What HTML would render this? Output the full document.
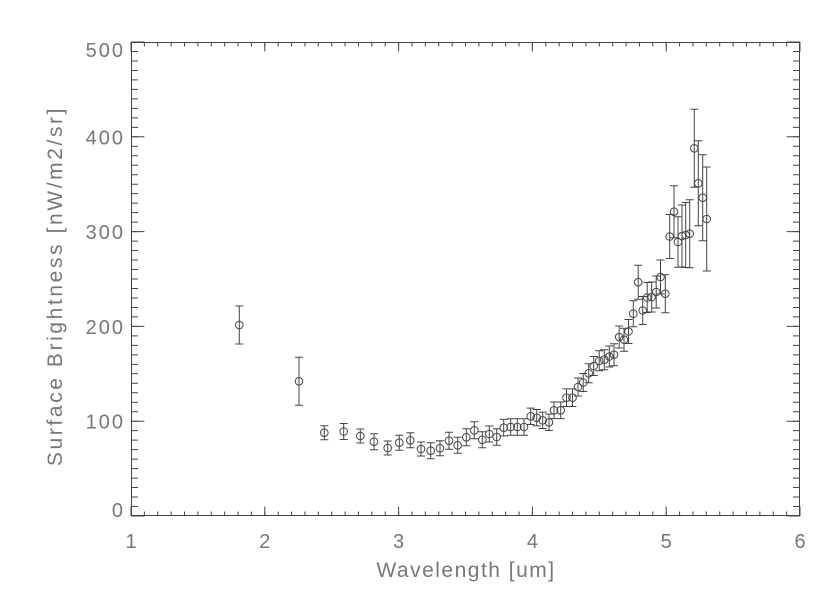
<!DOCTYPE html>
<html>
<head>
<meta charset="utf-8">
<style>
  html, body { margin: 0; padding: 0; background: #ffffff; }
  body { width: 840px; height: 600px; overflow: hidden; }
  svg { display: block; }
  .lbl { font-family: "Liberation Sans", "DejaVu Sans", sans-serif; fill: #777; }
</style>
</head>
<body>
<svg width="840" height="600" viewBox="0 0 840 600" xmlns="http://www.w3.org/2000/svg">
  <rect width="840" height="600" fill="#fff"/>

  <rect x="131.5" y="42.5" width="668" height="473" fill="none" stroke="#444" stroke-width="1"/>

  <line x1="130.5" y1="513.75" x2="801" y2="513.75" stroke="#444" stroke-width="4.5" stroke-dasharray="1 12.38"/>
  <line x1="130.5" y1="511.25" x2="801" y2="511.25" stroke="#444" stroke-width="9.5" stroke-dasharray="1 132.8"/>
  <line x1="130.5" y1="44.25" x2="801" y2="44.25" stroke="#444" stroke-width="4.5" stroke-dasharray="1 12.38"/>
  <line x1="130.5" y1="46.75" x2="801" y2="46.75" stroke="#444" stroke-width="9.5" stroke-dasharray="1 132.8"/>
  <line x1="134.5" y1="516.5" x2="134.5" y2="41" stroke="#444" stroke-width="7" stroke-dasharray="1 8.48"/>
  <line x1="137.7" y1="516.5" x2="137.7" y2="41" stroke="#444" stroke-width="13.4" stroke-dasharray="1 93.8"/>
  <line x1="796.5" y1="516.5" x2="796.5" y2="41" stroke="#444" stroke-width="7" stroke-dasharray="1 8.48"/>
  <line x1="793.3" y1="516.5" x2="793.3" y2="41" stroke="#444" stroke-width="13.4" stroke-dasharray="1 93.8"/>

  <g class="lbl" font-size="20" text-anchor="end" letter-spacing="2">
    <text x="125" y="517">0</text>
    <text x="125" y="428.7">100</text>
    <text x="125" y="333.9">200</text>
    <text x="125" y="239.1">300</text>
    <text x="125" y="144.5">400</text>
    <text x="125" y="57">500</text>
  </g>
  <g class="lbl" font-size="20" text-anchor="middle">
    <text x="131" y="548">1</text>
    <text x="264.8" y="548">2</text>
    <text x="398.6" y="548">3</text>
    <text x="532.4" y="548">4</text>
    <text x="666.2" y="548">5</text>
    <text x="800" y="548">6</text>
  </g>

  <text class="lbl" x="466" y="577" font-size="21" text-anchor="middle" letter-spacing="1.5">Wavelength [um]</text>
  <text class="lbl" font-size="21" text-anchor="middle" letter-spacing="2.6" transform="translate(62,286) rotate(-90)">Surface Brightness [nW/m2/sr]</text>

  <path fill="none" stroke="#444" stroke-width="1" d="
M239.3 306V344M235.3 306h8M235.3 344h8
M299 357.3V405.3M295 357.3h8M295 405.3h8
M324.3 425.7V439.7M320.3 425.7h8M320.3 439.7h8
M343.7 423.5V439.5M339.7 423.5h8M339.7 439.5h8
M360.3 429V443M356.3 429h8M356.3 443h8
M374 433.7V449.7M370 433.7h8M370 449.7h8
M387.7 441V455M383.7 441h8M383.7 455h8
M399.3 435.2V450.2M395.3 435.2h8M395.3 450.2h8
M410.3 432.8V447.8M406.3 432.8h8M406.3 447.8h8
M421 442V456M417 442h8M417 456h8
M430.7 442.7V458.7M426.7 442.7h8M426.7 458.7h8
M440 440.8V455.8M436 440.8h8M436 455.8h8
M449 432.2V449.2M445 432.2h8M445 449.2h8
M457.7 437.3V453.3M453.7 437.3h8M453.7 453.3h8
M466.3 428.8V445.8M462.3 428.8h8M462.3 445.8h8
M474.3 421.8V438.8M470.3 421.8h8M470.3 438.8h8
M482.3 431.7V447.7M478.3 431.7h8M478.3 447.7h8
M489.3 426V442M485.3 426h8M485.3 442h8
M496.7 428.7V445.3M492.7 428.7h8M492.7 445.3h8
M503.7 419.4V436M499.7 419.4h8M499.7 436h8
M510.7 418.7V435.3M506.7 418.7h8M506.7 435.3h8
M517.3 418.7V435.3M513.3 418.7h8M513.3 435.3h8
M524 418.7V435.3M520 418.7h8M520 435.3h8
M530.7 408.1V424.5M526.7 408.1h8M526.7 424.5h8
M536.7 409.5V425.9M532.7 409.5h8M532.7 425.9h8
M542.7 412.1V428.5M538.7 412.1h8M538.7 428.5h8
M549 414.1V430.5M545 414.1h8M545 430.5h8
M554 402V418.6M550 402h8M550 418.6h8
M560.7 402V418.6M556.7 402h8M556.7 418.6h8
M566.5 388.9V406.5M562.5 388.9h8M562.5 406.5h8
M572.5 388.9V406.5M568.5 388.9h8M568.5 406.5h8
M578 378V396M574 378h8M574 396h8
M583.2 373.5V391.5M579.2 373.5h8M579.2 391.5h8
M588.7 363.8V382.8M584.7 363.8h8M584.7 382.8h8
M593.7 356.5V375.5M589.7 356.5h8M589.7 375.5h8
M599.2 350.8V370.8M595.2 350.8h8M595.2 370.8h8
M604.3 349.7V369.7M600.3 349.7h8M600.3 369.7h8
M609.3 346V367M605.3 346h8M605.3 367h8
M614 343.7V365.7M610 343.7h8M610 365.7h8
M619.2 326V348M615.2 326h8M615.2 348h8
M624 328.2V351.2M620 328.2h8M620 351.2h8
M628.5 319.5V343.5M624.5 319.5h8M624.5 343.5h8
M633.3 300.7V326.7M629.3 300.7h8M629.3 326.7h8
M638.2 265.2V299.2M634.2 265.2h8M634.2 299.2h8
M642.7 296.5V324.5M638.7 296.5h8M638.7 324.5h8
M647.2 282.5V312.5M643.2 282.5h8M643.2 312.5h8
M651.7 282V312M647.7 282h8M647.7 312h8
M656.2 276V308M652.2 276h8M652.2 308h8
M660.5 260V294M656.5 260h8M656.5 294h8
M665.3 274.7V312.7M661.3 274.7h8M661.3 312.7h8
M669.7 214.5V258.5M665.7 214.5h8M665.7 258.5h8
M674 185.7V237.7M670 185.7h8M670 237.7h8
M678 216.7V267.3M674 216.7h8M674 267.3h8
M682 205V267M678 205h8M678 267h8
M685.7 202.5V267.5M681.7 202.5h8M681.7 267.5h8
M689.7 199.7V267.7M685.7 199.7h8M685.7 267.7h8
M694.3 109.3V187.3M690.3 109.3h8M690.3 187.3h8
M698.3 140.8V225.8M694.3 140.8h8M694.3 225.8h8
M702.7 154.7V240.7M698.7 154.7h8M698.7 240.7h8
M706.7 167V271M702.7 167h8M702.7 271h8
"/>

  <g fill="none" stroke="#444" stroke-width="1">
    <circle cx="239.3" cy="325" r="3.8"/>
    <circle cx="299" cy="381.3" r="3.8"/>
    <circle cx="324.3" cy="432.7" r="3.8"/>
    <circle cx="343.7" cy="431.5" r="3.8"/>
    <circle cx="360.3" cy="436" r="3.8"/>
    <circle cx="374" cy="441.7" r="3.8"/>
    <circle cx="387.7" cy="448" r="3.8"/>
    <circle cx="399.3" cy="442.7" r="3.8"/>
    <circle cx="410.3" cy="440.3" r="3.8"/>
    <circle cx="421" cy="449" r="3.8"/>
    <circle cx="430.7" cy="450.7" r="3.8"/>
    <circle cx="440" cy="448.3" r="3.8"/>
    <circle cx="449" cy="440.7" r="3.8"/>
    <circle cx="457.7" cy="445.3" r="3.8"/>
    <circle cx="466.3" cy="437.3" r="3.8"/>
    <circle cx="474.3" cy="430.3" r="3.8"/>
    <circle cx="482.3" cy="439.7" r="3.8"/>
    <circle cx="489.3" cy="434" r="3.8"/>
    <circle cx="496.7" cy="437" r="3.8"/>
    <circle cx="503.7" cy="427.7" r="3.8"/>
    <circle cx="510.7" cy="427" r="3.8"/>
    <circle cx="517.3" cy="427" r="3.8"/>
    <circle cx="524" cy="427" r="3.8"/>
    <circle cx="530.7" cy="416.3" r="3.8"/>
    <circle cx="536.7" cy="417.7" r="3.8"/>
    <circle cx="542.7" cy="420.3" r="3.8"/>
    <circle cx="549" cy="422.3" r="3.8"/>
    <circle cx="554" cy="410.3" r="3.8"/>
    <circle cx="560.7" cy="410.3" r="3.8"/>
    <circle cx="566.5" cy="397.7" r="3.8"/>
    <circle cx="572.5" cy="397.7" r="3.8"/>
    <circle cx="578" cy="387" r="3.8"/>
    <circle cx="583.2" cy="382.5" r="3.8"/>
    <circle cx="588.7" cy="373.3" r="3.8"/>
    <circle cx="593.7" cy="366" r="3.8"/>
    <circle cx="599.2" cy="360.8" r="3.8"/>
    <circle cx="604.3" cy="359.7" r="3.8"/>
    <circle cx="609.3" cy="356.5" r="3.8"/>
    <circle cx="614" cy="354.7" r="3.8"/>
    <circle cx="619.2" cy="337" r="3.8"/>
    <circle cx="624" cy="339.7" r="3.8"/>
    <circle cx="628.5" cy="331.5" r="3.8"/>
    <circle cx="633.3" cy="313.7" r="3.8"/>
    <circle cx="638.2" cy="282.2" r="3.8"/>
    <circle cx="642.7" cy="310.5" r="3.8"/>
    <circle cx="647.2" cy="297.5" r="3.8"/>
    <circle cx="651.7" cy="297" r="3.8"/>
    <circle cx="656.2" cy="292" r="3.8"/>
    <circle cx="660.5" cy="277" r="3.8"/>
    <circle cx="665.3" cy="293.7" r="3.8"/>
    <circle cx="669.7" cy="236.5" r="3.8"/>
    <circle cx="674" cy="211.7" r="3.8"/>
    <circle cx="678" cy="242" r="3.8"/>
    <circle cx="682" cy="236" r="3.8"/>
    <circle cx="685.7" cy="235" r="3.8"/>
    <circle cx="689.7" cy="233.7" r="3.8"/>
    <circle cx="694.3" cy="148.3" r="3.8"/>
    <circle cx="698.3" cy="183.3" r="3.8"/>
    <circle cx="702.7" cy="197.7" r="3.8"/>
    <circle cx="706.7" cy="219" r="3.8"/>
  </g>
</svg>
</body>
</html>
